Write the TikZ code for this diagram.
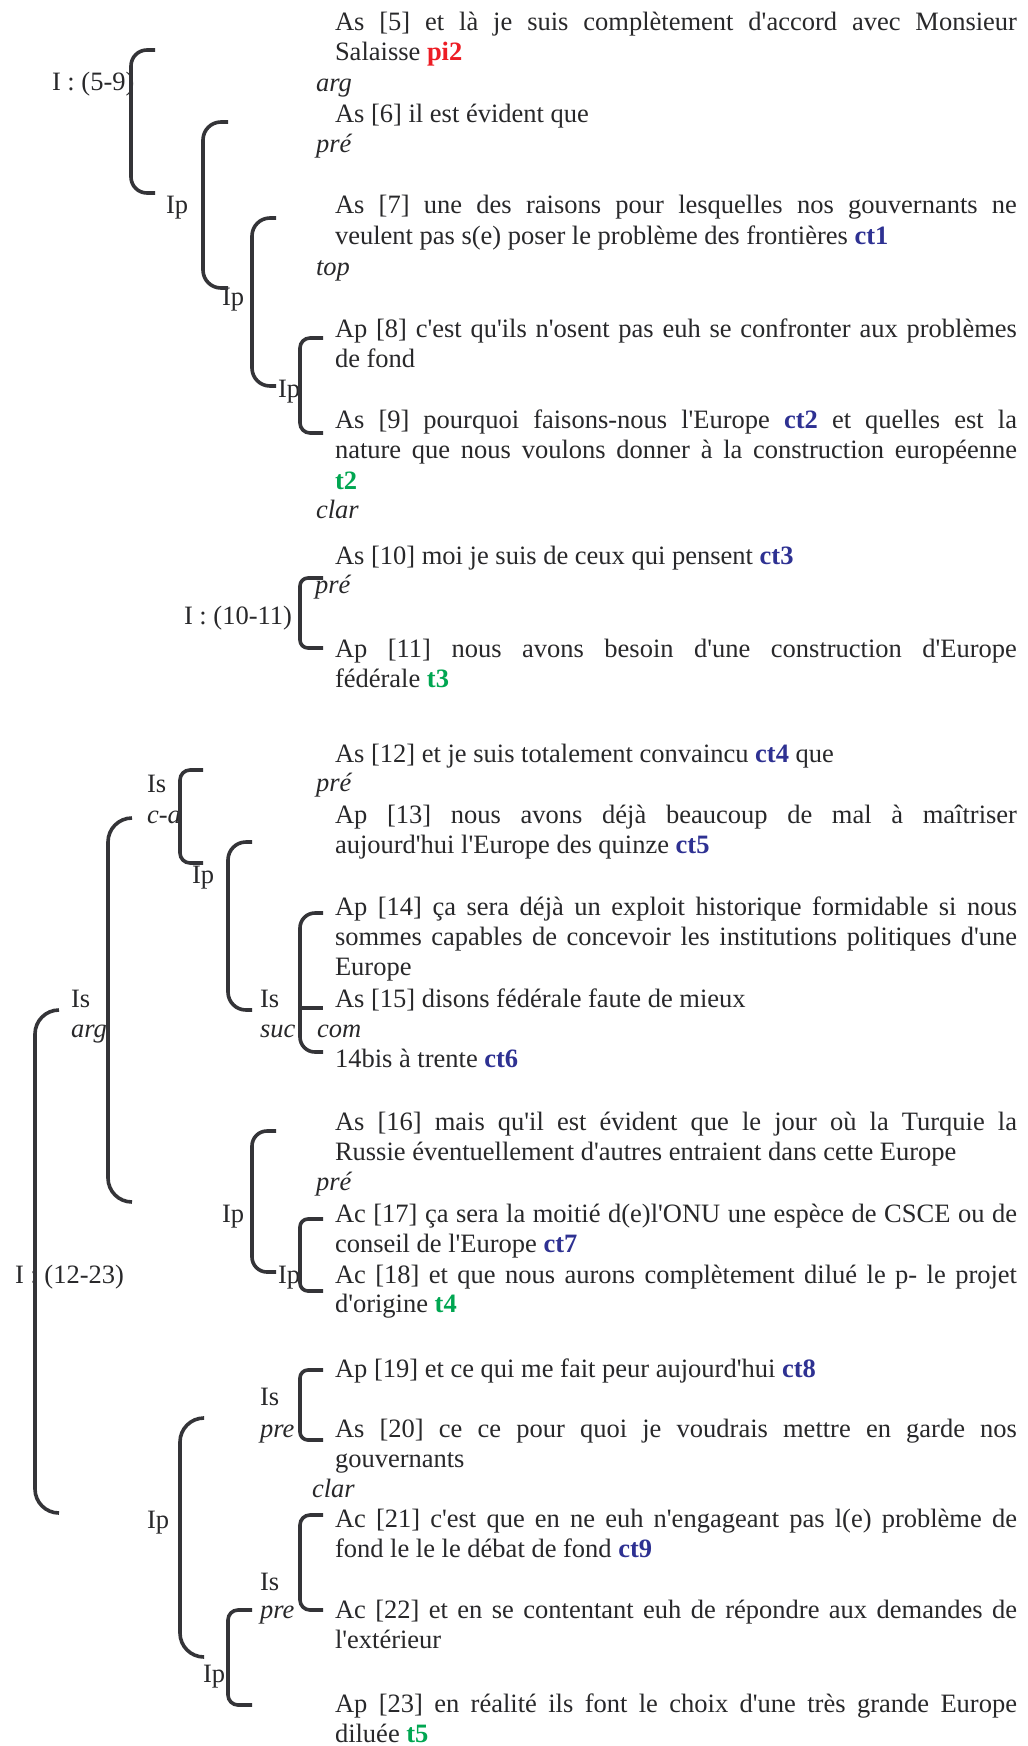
\documentclass[tikz,border=0pt]{standalone}
\usepackage{fontspec}
\newfontfamily\serifmain{Liberation Serif}
\definecolor{txtcol}{RGB}{40,40,42}
\definecolor{brkcol}{RGB}{52,52,56}
\definecolor{ctblue}{RGB}{46,49,146}
\definecolor{tgreen}{RGB}{0,166,81}
\definecolor{pired}{RGB}{237,28,36}
\newcommand{\ctB}[1]{\textbf{\color{ctblue}#1}}
\newcommand{\tG}[1]{\textbf{\color{tgreen}#1}}
\newcommand{\piR}[1]{\textbf{\color{pired}#1}}
\tikzset{
  txt/.style={anchor=base west, inner sep=0pt, outer sep=0pt, text=txtcol,
    font=\serifmain\fontsize{26.5}{30.5}\selectfont},
  itl/.style={txt, font=\serifmain\itshape\fontsize{26.5}{30.5}\selectfont},
  brk/.style={draw=brkcol, line width=3.6pt}
}
\newcommand{\tline}[4]{\node[txt] (#1) at (#2,-#3) {#4};}
\newcommand{\iline}[4]{\node[itl] (#1) at (#2,-#3) {#4};}
\newcommand{\jline}[3]{\node[txt] (#1) at (335,-#2) {\makebox[682pt][s]{#3}};}
\newcommand{\brkt}[6]{%
  \coordinate (#1t) at (#5,-#3);
  \coordinate (#1b) at (#5,-#4);
  \draw[brk, rounded corners=#6pt] (#1t) -| (#2,-#4) -- (#1b);}
\begin{document}
\begin{tikzpicture}[x=1pt,y=1pt]
\useasboundingbox (0,0) rectangle (1028,-1746);
\fill[white] (0,0) rectangle (1028,-1746);
% right-hand text
\jline{a1}{30}{As [5] et là je suis complètement d'accord avec Monsieur}
\tline{a2}{335}{60}{Salaisse \piR{pi2}}
\iline{a3}{316}{91}{arg}
\tline{a4}{335}{122}{As [6] il est évident que}
\iline{a5}{316}{152}{pré}
\jline{a6}{213}{As [7] une des raisons pour lesquelles nos gouvernants ne}
\tline{a7}{335}{244}{veulent pas s(e) poser le problème des frontières \ctB{ct1}}
\iline{a8}{316}{275}{top}
\jline{a9}{337}{Ap [8] c'est qu'ils n'osent pas euh se confronter aux problèmes}
\tline{a10}{335}{367}{de fond}
\jline{a11}{428}{As [9] pourquoi faisons-nous l'Europe \ctB{ct2} et quelles est la}
\jline{a12}{458}{nature que nous voulons donner à la construction européenne}
\tline{a13}{335}{489}{\tG{t2}}
\iline{a14}{316}{518}{clar}
\tline{a15}{335}{564}{As [10] moi je suis de ceux qui pensent \ctB{ct3}}
\iline{a16}{315}{593}{pré}
\jline{a17}{657}{Ap [11] nous avons besoin d'une construction d'Europe}
\tline{a18}{335}{687}{fédérale \tG{t3}}
\tline{a19}{335}{762}{As [12] et je suis totalement convaincu \ctB{ct4} que}
\iline{a20}{316}{791}{pré}
\jline{a21}{823}{Ap [13] nous avons déjà beaucoup de mal à maîtriser}
\tline{a22}{335}{853}{aujourd'hui l'Europe des quinze \ctB{ct5}}
\jline{a23}{915}{Ap [14] ça sera déjà un exploit historique formidable si nous}
\jline{a24}{945}{sommes capables de concevoir les institutions politiques d'une}
\tline{a25}{335}{975}{Europe}
\tline{a26}{335}{1007}{As [15] disons fédérale faute de mieux}
\iline{a27}{317}{1037}{com}
\tline{a28}{335}{1067}{14bis à trente \ctB{ct6}}
\jline{a29}{1130}{As [16] mais qu'il est évident que le jour où la Turquie la}
\tline{a30}{335}{1160}{Russie éventuellement d'autres entraient dans cette Europe}
\iline{a31}{316}{1190}{pré}
\jline{a32}{1222}{Ac [17] ça sera la moitié d(e)l'ONU une espèce de CSCE ou de}
\tline{a33}{335}{1252}{conseil de l'Europe \ctB{ct7}}
\jline{a34}{1283}{Ac [18] et que nous aurons complètement dilué le p- le projet}
\tline{a35}{335}{1312}{d'origine \tG{t4}}
\tline{a36}{335}{1377}{Ap [19] et ce qui me fait peur aujourd'hui \ctB{ct8}}
\jline{a37}{1437}{As [20] ce ce pour quoi je voudrais mettre en garde nos}
\tline{a38}{335}{1467}{gouvernants}
\iline{a39}{312}{1497}{clar}
\jline{a40}{1527}{Ac [21] c'est que en ne euh n'engageant pas l(e) problème de}
\tline{a41}{335}{1557}{fond le le le débat de fond \ctB{ct9}}
\jline{a42}{1618}{Ac [22] et en se contentant euh de répondre aux demandes de}
\tline{a43}{335}{1648}{l'extérieur}
\jline{a44}{1712}{Ap [23] en réalité ils font le choix d'une très grande Europe}
\tline{a45}{335}{1742}{diluée \tG{t5}}
% left-hand labels
\tline{L1}{52}{90}{I : (5-9)}
\tline{L2}{166}{213}{Ip}
\tline{L3}{222}{305}{Ip}
\tline{L4}{278}{397}{Ip}
\tline{L5}{184}{624}{I : (10-11)}
\tline{L6}{147}{792}{Is}
\iline{L6b}{147}{823}{c-a}
\tline{L7}{192}{883}{Ip}
\tline{L8}{260}{1007}{Is}
\iline{L8b}{260}{1037}{suc}
\tline{L9}{71}{1007}{Is}
\iline{L9b}{71}{1037}{arg}
\tline{L10}{15}{1283}{I : (12-23)}
\tline{L11}{222}{1222}{Ip}
\tline{L12}{278}{1283}{Ip}
\tline{L13}{260}{1405}{Is}
\iline{L13b}{260}{1437}{pre}
\tline{L14}{147}{1528}{Ip}
\tline{L15}{260}{1590}{Is}
\iline{L15b}{260}{1618}{pre}
\tline{L16}{203}{1682}{Ip}
% brackets
\brkt{b1}{131}{50}{193}{155}{16}
\brkt{b2}{203}{122}{288}{228}{18}
\brkt{b3}{252}{218}{386}{276}{18}
\brkt{b4}{300}{338}{433}{323}{10}
\brkt{b5}{300}{578}{648}{323}{8}
\brkt{b6}{180}{770}{863}{203}{10}
\brkt{b7}{228}{842}{1010}{252}{18}
\brkt{b8}{300}{913}{1052}{323}{15}
\coordinate (b8m) at (323,-1008);
\draw[brk] (300,-1008) -- (b8m);
\brkt{b9}{108}{818}{1202}{132}{24}
\brkt{b10}{35}{1010}{1513}{59}{24}
\brkt{b11}{252}{1131}{1272}{276}{15}
\brkt{b12}{300}{1219}{1291}{323}{8}
\brkt{b13}{300}{1370}{1440}{323}{8}
\brkt{b14}{180}{1418}{1657}{203}{24}
\brkt{b15}{300}{1515}{1610}{323}{10}
\brkt{b16}{228}{1610}{1705}{252}{10}
\end{tikzpicture}
\end{document}
